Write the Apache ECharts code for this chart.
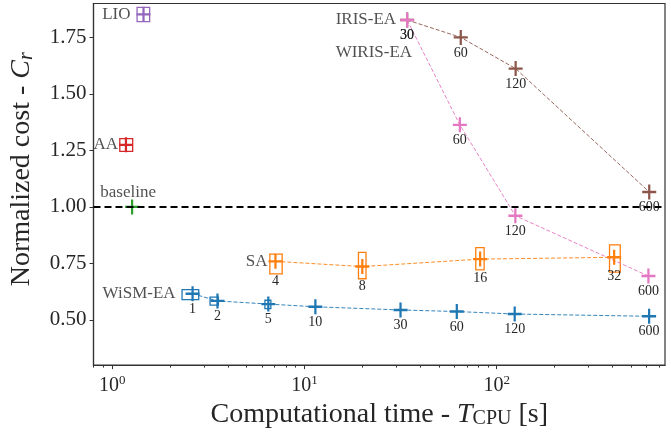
<!DOCTYPE html>
<html>
<head>
<meta charset="utf-8">
<script src="https://cdn.jsdelivr.net/npm/echarts@6/dist/echarts.min.js"></script>
<style>
  html, body { margin: 0; padding: 0; background: #fff; }
  #chart { width: 671px; height: 434px; }
</style>
</head>
<body>
<div id="chart"></div>
<script>
// data: CPU time [s] and normalized cost C_r
var wismT = [2.62, 3.53, 6.49, 11.4, 31.6, 62, 124, 620];
var wismC = [0.616, 0.584, 0.570, 0.558, 0.544, 0.537, 0.526, 0.516];
var wismBudget = ['1', '2', '5', '10', '30', '60', '120', '600'];
var wismBoxT = [[2.31, 2.82], [3.23, 3.57], [6.23, 6.69]];
var wismBoxC = [[0.590, 0.634], [0.565, 0.601], [0.550, 0.587]];

var saT = [7.07, 20.0, 82, 408];
var saC = [0.759, 0.736, 0.769, 0.777];
var saBudget = ['4', '8', '16', '32'];
var saBoxT = [[6.61, 7.66], [19.1, 20.9], [77.8, 86], [386, 439]];
var saBoxC = [[0.704, 0.791], [0.682, 0.799], [0.721, 0.820], [0.711, 0.832]];

var irisT = [34.2, 65, 125.4, 621];
var irisC = [1.827, 1.750, 1.612, 1.066];
var wirisT = [34.2, 64.3, 125, 615];
var wirisC = [1.827, 1.363, 0.961, 0.694];
var irisBudget = ['30', '60', '120', '600'];

var lioT = 1.456, lioC = 1.852;
var lioBoxT = [[1.348, 1.567]], lioBoxC = [[1.820, 1.883]];
var aaT = 1.18, aaC = 1.2745;
var aaBoxT = [[1.096, 1.279]], aaBoxC = [[1.246, 1.302]];
var baseT = 1.27, baseC = 1.0;

var xMajor = [1, 10, 100];
var xMinor = [0.8, 0.9, 2, 3, 4, 5, 6, 7, 8, 9, 20, 30, 40, 50, 60, 70, 80, 90, 200, 300, 400, 500, 600, 700];
var yTicks = [0.5, 0.75, 1.0, 1.25, 1.5, 1.75];

var colors = {
  wism: '#1f77b4', sa: '#ff7f0e', base: '#2ca02c', aa: '#d62728',
  lio: '#9467bd', iris: '#8c564b', wiris: '#e377c2'
};
var textColor = '#262626';
var serif = '"Liberation Serif", "DejaVu Serif", serif';
var plus = 'path://M0.42,0H0.58V0.42H1V0.58H0.58V1H0.42V0.58H0V0.42H0.42Z';

function pairs(t, c) {
  return t.map(function (v, i) { return [v, c[i]]; });
}

function lineSeries(t, c, budget, color, labelDist) {
  return {
    type: 'line',
    data: pairs(t, c),
    z: 3,
    symbol: plus,
    symbolSize: [14, 15],
    itemStyle: { color: color },
    lineStyle: { color: color, width: 1, type: [4, 2], opacity: 0.9 },
    label: {
      show: true, position: 'bottom', distance: labelDist,
      color: textColor, fontFamily: serif, fontSize: 14,
      formatter: function (p) { return budget[p.dataIndex]; }
    }
  };
}

function boxSeries(bt, bc, color) {
  return {
    type: 'custom',
    z: 2,
    silent: true,
    data: bt.map(function (t, i) { return [t[0], bc[i][0], t[1], bc[i][1]]; }),
    encode: { x: [0, 2], y: [1, 3] },
    renderItem: function (params, api) {
      var p0 = api.coord([api.value(0), api.value(3)]);
      var p1 = api.coord([api.value(2), api.value(1)]);
      return {
        type: 'rect',
        shape: { x: p0[0], y: p0[1], width: p1[0] - p0[0], height: p1[1] - p0[1] },
        style: { fill: 'none', stroke: color, lineWidth: 1.3 }
      };
    }
  };
}

function single(t, c, color) {
  return {
    type: 'scatter', z: 3, data: [[t, c]],
    symbol: plus, symbolSize: [14, 15],
    itemStyle: { color: color, opacity: 1 }
  };
}

var nameLabels = [
  { name: 'LIO', value: [lioT, lioC], label: { position: 'left', distance: 13 } },
  { name: 'AA', value: [aaT, aaC], label: { position: 'left', distance: 8 } },
  { name: 'baseline', value: [baseT, baseC], label: { position: 'top', distance: 6, offset: [-4, 0] } },
  { name: 'IRIS-EA', value: [irisT[0], irisC[0]], label: { position: 'left', distance: 11 } },
  { name: 'WIRIS-EA', value: [wirisT[0], wirisC[0]], label: { position: 'left', distance: 11, offset: [16, 33] } },
  { name: 'SA', value: [saT[0], saC[0]], label: { position: 'left', distance: 8 } },
  { name: 'WiSM-EA', value: [wismT[0], wismC[0]], label: { position: 'left', distance: 17 } }
];

var chart = echarts.init(document.getElementById('chart'), null, { renderer: 'canvas' });

var option = {
  animation: false,
  backgroundColor: '#fff',
  grid: {
    left: 91, right: 6, top: 3.5, bottom: 65,
    show: true, borderColor: '#333', borderWidth: 1.2, backgroundColor: 'transparent'
  },
  xAxis: [{
    type: 'log',
    min: 0.8, max: 750,
    axisLine: { show: true, lineStyle: { color: '#333', width: 1.2 } },
    axisTick: { show: true, length: 4, lineStyle: { color: '#333' }, customValues: xMajor },
    splitLine: { show: false },
    axisLabel: {
      customValues: xMajor,
      margin: 9,
      color: textColor, fontFamily: serif, fontSize: 20,
      formatter: function (v) { return '10{sup|' + Math.round(Math.log10(v)) + '}'; },
      rich: { sup: { fontSize: 13, fontFamily: serif, color: textColor, padding: [0, 0, 10, 0] } }
    },
    name: 'Computational time - {i|T}{sub|CPU} [s]',
    nameLocation: 'middle',
    nameGap: 29,
    nameTextStyle: {
      color: textColor, fontFamily: serif, fontSize: 28,
      rich: {
        i: { fontStyle: 'italic', fontFamily: serif, fontSize: 28, color: textColor },
        sub: { fontFamily: serif, fontSize: 20, color: textColor, padding: [9, 0, 0, 0] }
      }
    }
  }, {
    type: 'log',
    min: 0.8, max: 750,
    position: 'bottom',
    axisLine: { show: false },
    axisTick: { show: true, length: 2.5, lineStyle: { color: '#333' }, customValues: xMinor },
    axisLabel: { show: false },
    splitLine: { show: false }
  }],
  yAxis: {
    type: 'value',
    min: 0.30, max: 1.90,
    axisLine: { show: true, lineStyle: { color: '#333', width: 1.2 } },
    axisTick: { show: true, length: 4, lineStyle: { color: '#333' }, customValues: yTicks },
    splitLine: { show: false },
    axisLabel: {
      customValues: yTicks,
      margin: 7,
      color: textColor, fontFamily: serif, fontSize: 21,
      formatter: function (v) { return v.toFixed(2); }
    },
    name: 'Normalized cost - {i|C}{sub|r}',
    nameLocation: 'middle',
    nameRotate: 90,
    nameGap: 57,
    nameTextStyle: {
      color: textColor, fontFamily: serif, fontSize: 28,
      padding: [0, 0, 0, 30],
      rich: {
        i: { fontStyle: 'italic', fontFamily: serif, fontSize: 28, color: textColor },
        sub: { fontStyle: 'italic', fontFamily: serif, fontSize: 20, color: textColor, padding: [9, 0, 0, 0] }
      }
    }
  },
  series: [
    boxSeries(wismBoxT, wismBoxC, colors.wism),
    boxSeries(saBoxT, saBoxC, colors.sa),
    boxSeries(lioBoxT, lioBoxC, colors.lio),
    boxSeries(aaBoxT, aaBoxC, colors.aa),
    lineSeries(wismT, wismC, wismBudget, colors.wism, 1),
    lineSeries(saT, saC, saBudget, colors.sa, 5),
    lineSeries(irisT, irisC, irisBudget, colors.iris, 1),
    lineSeries(wirisT, wirisC, irisBudget, colors.wiris, 1),
    single(lioT, lioC, colors.lio),
    single(aaT, aaC, colors.aa),
    {
      type: 'scatter', z: 4, data: [[baseT, baseC]],
      symbol: plus, symbolSize: [14, 15],
      itemStyle: { color: colors.base, opacity: 1 },
      markLine: {
        silent: true, symbol: ['none', 'none'],
        label: { show: false },
        lineStyle: { color: '#000', type: [7, 4], width: 1.8 },
        data: [{ yAxis: 1.0 }]
      }
    },
    {
      type: 'scatter', z: 5, symbolSize: 0, silent: true,
      data: nameLabels,
      label: {
        show: true, formatter: '{b}',
        color: textColor, fontFamily: serif, fontSize: 17
      }
    }
  ]
};

chart.setOption(option);
window.addEventListener('resize', chart.resize);
</script>
</body>
</html>
